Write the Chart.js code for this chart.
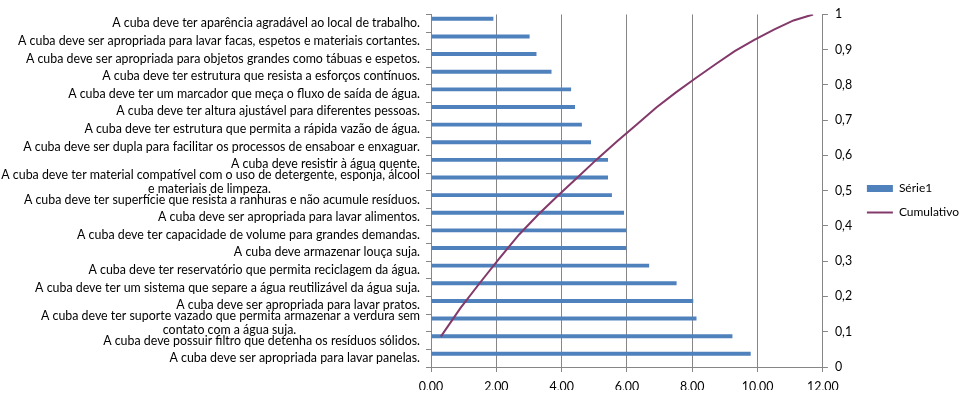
<!DOCTYPE html>
<html>
<head>
<meta charset="utf-8">
<script src="https://cdn.jsdelivr.net/npm/chart.js@4/dist/chart.umd.min.js"></script>
<style>
  html, body { margin: 0; padding: 0; background: #fff; }
  #box { width: 969px; height: 402px; }
</style>
</head>
<body>
<div id="box"><canvas id="chart"></canvas></div>
<script>
// categories, top to bottom as shown
const categories = [
  'A cuba deve ter aparência agradável ao local de trabalho.',
  'A cuba deve ser apropriada para lavar facas, espetos e materiais cortantes.',
  'A cuba deve ser apropriada para objetos grandes como tábuas e espetos.',
  'A cuba deve ter estrutura que resista a esforços contínuos.',
  'A cuba deve ter um marcador que meça o fluxo de saída de água.',
  'A cuba deve ter altura ajustável para diferentes pessoas.',
  'A cuba deve ter estrutura que permita a rápida vazão de água.',
  'A cuba deve ser dupla para facilitar os processos de ensaboar e enxaguar.',
  'A cuba deve resistir à água quente.',
  ['A cuba deve ter material compatível com o uso de detergente, esponja, álcool', 'e materiais de limpeza.'],
  'A cuba deve ter superfície que resista a ranhuras e não acumule resíduos.',
  'A cuba deve ser apropriada para lavar alimentos.',
  'A cuba deve ter capacidade de volume para grandes demandas.',
  'A cuba deve armazenar louça suja.',
  'A cuba deve ter reservatório que permita reciclagem da água.',
  'A cuba deve ter um sistema que separe a água reutilizável da água suja.',
  'A cuba deve ser apropriada para lavar pratos.',
  ['A cuba deve ter suporte vazado que permita armazenar a verdura sem', 'contato com a água suja.'],
  'A cuba deve possuir filtro que detenha os resíduos sólidos.',
  'A cuba deve ser apropriada para lavar panelas.'
];

// Série1, same order as categories
const serie1 = [1.91, 3.02, 3.23, 3.69, 4.29, 4.41, 4.62, 4.90, 5.42, 5.42,
                5.54, 5.91, 5.98, 5.98, 6.68, 7.52, 8.03, 8.13, 9.23, 9.79];

// Cumulativo, from the bottom bar (panelas) up to the top one
const cumulativo = [0.086, 0.167, 0.239, 0.309, 0.376, 0.434, 0.487, 0.539, 0.591, 0.640,
                    0.688, 0.736, 0.779, 0.819, 0.858, 0.896, 0.928, 0.957, 0.983, 1.0];

const xTicks = { min: 0, max: 12, step: 2 };
const y2Ticks = { min: 0, max: 1, step: 0.1 };

const lineCats = categories.slice().reverse();

const FONT = 'Lato';
const FSIZE = 12.4;
const measure = document.createElement('canvas').getContext('2d');
measure.font = FSIZE + 'px ' + FONT;

// excel centres wrapped lines, chart.js right-aligns them: pad the short lines
function centerLines(lines) {
  const w = Math.max(...lines.map(l => measure.measureText(l).width));
  const sp = measure.measureText('\u00a0').width;
  return lines.map(l => l + '\u00a0'.repeat(Math.round((w - measure.measureText(l).width) / 2 / sp)));
}

const axisGray = '#868686';
Chart.defaults.font.family = FONT;
Chart.defaults.font.size = FSIZE;
Chart.defaults.color = '#000';

new Chart(document.getElementById('chart'), {
  type: 'bar',
  data: {
    labels: categories,
    datasets: [{
      label: 'Série1',
      data: serie1,
      backgroundColor: '#4F81BD',
      borderWidth: 0,
      categoryPercentage: 1,
      barPercentage: 0.45,
      pointStyle: 'rect',
      xAxisID: 'x',
      yAxisID: 'y'
    }, {
      type: 'line',
      label: 'Cumulativo',
      data: cumulativo,
      indexAxis: 'x',
      borderColor: '#83396A',
      backgroundColor: '#83396A',
      borderWidth: 2,
      pointRadius: 0,
      pointStyle: 'line',
      tension: 0,
      order: -1,
      xAxisID: 'x2',
      yAxisID: 'y2'
    }]
  },
  options: {
    indexAxis: 'y',
    responsive: true,
    maintainAspectRatio: false,
    animation: false,
    layout: { padding: { top: 11, right: 0, left: 0, bottom: 12 } },
    plugins: {
      tooltip: { enabled: false },
      legend: {
        position: 'right',
        maxWidth: 116,
        labels: {
          usePointStyle: true,
          pointStyleWidth: 26,
          boxHeight: 7,
          padding: 12,
          color: '#000',
          font: { size: 12 },
          sort: (a, b) => a.datasetIndex - b.datasetIndex
        }
      }
    },
    scales: {
      x: {
        type: 'linear',
        position: 'bottom',
        min: xTicks.min,
        max: xTicks.max,
        ticks: {
          stepSize: xTicks.step,
          padding: 8,
          callback: v => v.toFixed(2).replace('.', ',')
        },
        grid: { color: axisGray, tickLength: 5 },
        border: { color: axisGray },
        afterFit: s => { s.height = 23; }
      },
      y: {
        type: 'category',
        position: 'left',
        ticks: {
          autoSkip: false,
          padding: 6,
          font: { lineHeight: 1.1 },
          callback: function (v) {
            const l = this.getLabelForValue(v);
            return Array.isArray(l) ? centerLines(l) : l;
          }
        },
        grid: { drawOnChartArea: false, color: axisGray, tickLength: 5 },
        border: { color: axisGray },
        afterFit: s => { s.width = 431; }
      },
      x2: {
        type: 'category',
        axis: 'x',
        labels: lineCats,
        offset: true,
        display: false
      },
      y2: {
        type: 'linear',
        axis: 'y',
        position: 'right',
        offset: false,
        min: y2Ticks.min,
        max: y2Ticks.max,
        ticks: {
          stepSize: y2Ticks.step,
          padding: 7,
          callback: v => String(Math.round(v * 10) / 10).replace('.', ',')
        },
        grid: { offset: false, drawOnChartArea: false, color: axisGray, tickLength: 5 },
        border: { color: axisGray },
        afterFit: s => { s.width = 32; }
      }
    }
  }
});
</script>
</body>
</html>
